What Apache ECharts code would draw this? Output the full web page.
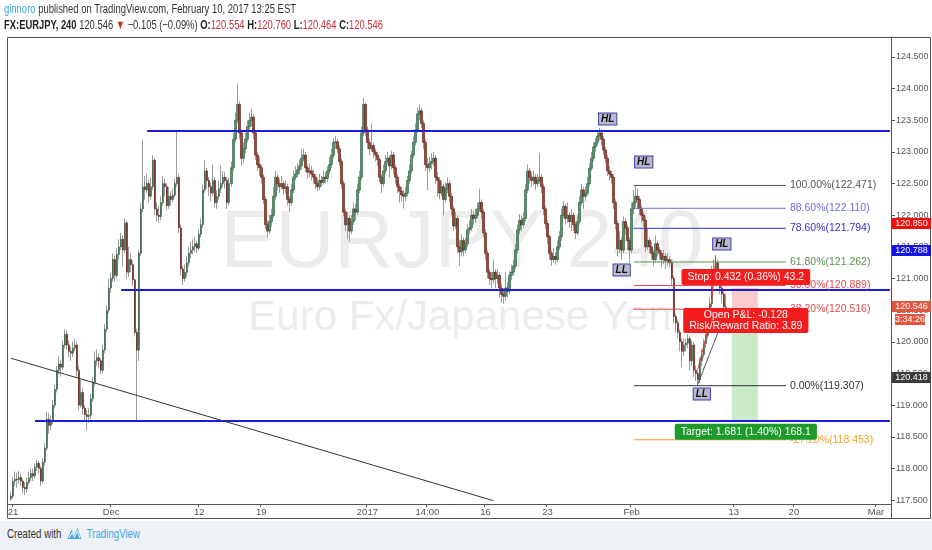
<!DOCTYPE html>
<html><head><meta charset="utf-8">
<script src="https://cdn.jsdelivr.net/npm/echarts/dist/echarts.min.js"></script>
<style>
html,body{margin:0;padding:0;background:#fff;}
#c{position:absolute;left:0;top:0;width:932px;height:550px;}
.nar{font-family:"Liberation Sans",Arial,sans-serif;transform-origin:0 50%;}
#h1{position:absolute;left:4px;top:2px;font-size:12.5px;color:#333;white-space:nowrap;}
#h2{position:absolute;left:4px;top:18px;font-size:12.5px;color:#333;white-space:nowrap;}
#h2 b{font-weight:bold;color:#222}
.rd{color:#c8323c}
#foot{position:absolute;left:0;top:521px;width:932px;height:29px;background:#eef1f6;}
#ft{position:absolute;left:7px;top:527px;font-size:12.5px;color:#333;white-space:nowrap;}
#ft .tv{color:#45a8e0}
</style>
</head><body>
<div id="c"></div>
<div id="h1" class="nar" data-w="292"><span style="color:#3da5dc">ginnoro</span> published on TradingView.com, February 10, 2017 13:25 EST</div>
<div id="h2" class="nar" data-w="379"><b>FX:EURJPY, 240</b> 120.546 <span class="rd">▼</span> −0.105 (−0.09%) <b>O:</b><span class="rd">120.554</span> <b>H:</b><span class="rd">120.760</span> <b>L:</b><span class="rd">120.464</span> <b>C:</b><span class="rd">120.546</span></div>
<div id="foot"></div>
<div id="ft" class="nar" data-w="133">Created with <svg width="22" height="13" viewBox="0 0 20 13" style="vertical-align:-2px;margin:0 2px"><path d="M1 12 L6 3 L10 8 L14 1 L19 12 Z" fill="#45a8e0"/><path d="M3 11 L7 6 L10 10 L14 4 L17 11" fill="none" stroke="#fff" stroke-width="1.2"/></svg> <span class="tv">TradingView</span></div>
<script>
const FONT = '"Liberation Sans",Arial,sans-serif';
const firstOpen = 117.52;
const closes = [
117.56,117.80,117.83,117.82,117.86,117.80,117.70,117.68,117.78,117.85,
117.92,117.88,118.02,118.08,118.00,117.80,118.10,118.32,118.78,118.68,
118.76,119.00,119.25,119.55,119.65,119.60,119.95,120.12,119.95,119.85,
119.82,119.90,119.95,119.55,119.00,119.20,118.95,118.85,118.82,118.84,
119.10,119.36,119.70,119.75,119.70,119.55,119.87,120.20,120.50,120.85,
121.00,121.30,121.05,121.38,121.50,121.62,121.45,121.88,121.10,121.30,
121.22,120.98,120.15,119.87,121.40,122.10,122.45,122.40,122.50,122.30,
122.45,122.87,122.10,122.00,121.98,122.20,122.50,122.45,122.15,122.30,
122.25,122.32,122.50,122.60,121.80,121.15,121.00,121.10,121.25,121.40,
121.45,121.50,121.55,121.48,121.70,121.85,122.40,122.70,122.55,122.45,
122.35,122.55,122.20,122.30,122.42,122.50,122.60,122.55,122.20,122.50,
122.75,123.20,123.50,123.75,123.30,122.90,123.05,123.20,123.40,123.50,
123.55,123.30,122.95,122.80,122.75,122.60,122.25,121.85,121.75,121.90,
122.00,122.30,122.60,122.50,122.45,122.50,122.42,122.45,122.25,122.20,
122.40,122.60,122.65,122.72,122.78,122.90,122.95,122.75,122.68,122.70,
122.65,122.60,122.50,122.45,122.55,122.52,122.60,122.58,122.70,122.80,
122.95,123.15,123.16,123.05,122.85,122.50,122.05,121.85,121.95,121.75,
121.90,122.10,122.05,122.40,122.60,123.30,123.75,123.35,123.15,123.05,
123.10,123.00,122.95,122.88,122.60,122.50,122.70,122.85,122.90,122.78,
122.95,122.75,122.60,122.45,122.38,122.32,122.30,122.35,122.55,122.70,
122.95,123.15,123.35,123.60,123.65,123.45,123.15,122.80,122.75,122.82,
122.85,122.90,122.60,122.55,122.35,122.45,122.25,122.42,122.50,122.30,
122.10,121.83,121.95,121.50,121.42,121.60,121.45,121.55,121.77,121.80,
122.00,121.95,122.00,122.10,122.20,122.05,121.72,121.40,121.10,121.00,
120.98,121.10,121.00,121.05,120.85,120.75,120.72,120.85,120.80,121.05,
121.10,121.20,121.45,121.77,121.92,121.85,121.95,122.40,122.70,122.60,
122.55,122.60,122.50,122.55,122.60,122.45,122.10,121.87,121.66,121.40,
121.30,121.35,121.30,121.50,121.66,122.00,122.14,121.95,122.00,121.90,
122.00,121.85,121.72,121.90,122.20,122.40,122.30,122.35,122.50,122.74,
122.90,123.08,123.15,123.25,123.30,123.20,123.03,122.90,122.70,122.65,
122.60,122.20,121.87,121.47,121.60,121.45,121.90,121.80,121.60,121.45,
122.10,122.20,122.30,122.25,122.10,122.00,121.92,121.50,121.60,121.50,
121.40,121.30,121.55,121.45,121.40,121.30,121.35,121.28,121.30,121.25,
121.00,120.40,120.30,120.15,120.00,119.85,119.95,119.98,120.05,119.70,
119.95,119.55,119.50,119.40,119.70,119.80,119.97,120.10,120.25,120.60,
121.10,121.00,121.25,121.00,120.85,120.75,120.554,120.546
];
const highs = [
117.62,117.86,117.95,117.93,117.96,117.92,117.84,117.78,117.86,117.95,
118.00,118.00,118.08,118.14,118.12,118.04,118.16,118.40,118.90,118.88,
118.84,119.08,119.32,119.62,119.78,119.72,120.02,120.20,120.18,120.02,
119.92,120.00,120.05,120.00,119.62,119.40,119.28,119.00,118.92,118.95,
119.18,119.45,119.85,119.88,119.82,119.74,119.95,120.28,120.58,121.00,
121.10,121.40,121.36,121.48,121.62,121.72,121.68,121.95,121.92,121.50,
121.40,121.28,121.00,120.20,121.45,122.20,123.19,122.62,122.65,122.55,
122.60,122.95,122.90,122.20,122.15,122.30,122.62,122.58,122.50,122.45,
122.38,122.42,122.58,123.35,122.65,121.85,121.20,121.22,121.35,121.50,
121.58,121.62,121.65,121.60,121.78,121.95,122.48,122.87,122.75,122.60,
122.52,122.80,122.60,122.40,122.55,122.78,122.70,122.68,122.60,122.60,
122.85,123.30,123.62,124.08,123.80,123.35,123.15,123.30,123.50,123.62,
123.68,123.60,123.35,123.00,122.92,122.80,122.65,122.30,121.92,122.00,
122.10,122.45,122.70,122.65,122.58,122.62,122.55,122.55,122.50,122.30,
122.50,122.70,122.78,122.82,122.88,123.05,123.05,123.00,122.80,122.82,
122.78,122.72,122.65,122.58,122.65,122.62,122.70,122.68,122.78,122.92,
123.05,123.22,123.25,123.20,123.10,122.90,122.55,122.10,122.05,122.00,
122.00,122.20,122.18,122.50,122.70,123.40,123.85,123.78,123.40,123.20,
123.45,123.15,123.05,123.00,122.92,122.65,122.80,122.95,123.00,122.95,
123.02,123.00,122.80,122.65,122.50,122.45,122.40,122.45,122.62,122.80,
123.02,123.25,123.45,123.70,123.75,123.70,123.50,123.20,122.90,122.92,
122.98,123.00,122.95,122.68,122.60,122.55,122.50,122.52,122.60,122.55,
122.35,122.15,122.05,122.00,121.60,121.70,121.65,121.65,121.85,121.92,
122.10,122.08,122.10,122.20,122.42,122.25,122.10,121.78,121.45,121.15,
121.10,121.30,121.15,121.15,121.10,120.92,120.85,121.10,120.95,121.12,
121.22,121.30,121.55,121.85,122.02,122.00,122.05,122.50,122.80,122.75,
122.68,122.70,122.65,122.65,122.98,122.65,122.50,122.15,121.92,121.70,
121.45,121.48,121.42,121.60,121.75,122.10,122.22,122.18,122.20,122.05,
122.10,122.05,121.90,122.00,122.30,122.50,122.45,122.45,122.60,122.82,
123.00,123.15,123.22,123.32,123.38,123.32,123.25,123.08,122.95,122.78,
122.70,122.65,122.25,121.92,121.75,121.65,121.98,121.95,121.85,121.65,
122.20,122.40,122.471,122.42,122.30,122.15,122.05,121.98,121.78,121.65,
121.58,121.45,121.68,121.60,121.50,121.45,121.45,121.40,121.40,121.35,
121.30,121.05,120.45,120.35,120.20,120.05,120.05,120.05,120.12,120.10,
120.02,120.00,119.62,119.55,119.75,119.88,120.05,120.18,120.35,120.70,
121.20,121.30,121.37,121.30,121.05,120.90,120.80,120.760
];
const lows = [
117.48,117.52,117.72,117.70,117.76,117.72,117.60,117.58,117.62,117.74,
117.80,117.80,117.84,117.96,117.92,117.72,117.76,118.05,118.28,118.55,
118.60,118.70,118.95,119.20,119.48,119.45,119.55,119.90,119.88,119.75,
119.70,119.76,119.85,119.45,118.92,118.96,118.85,118.75,118.60,118.72,
118.78,119.05,119.30,119.62,119.58,119.48,119.50,119.82,120.15,120.45,
120.78,120.95,120.95,121.00,121.30,121.45,121.20,121.40,121.00,121.02,
121.10,120.88,120.10,118.74,119.70,121.35,122.05,122.25,122.35,122.20,
122.25,122.40,122.00,121.90,121.88,121.92,122.15,122.30,122.08,122.10,
122.15,122.20,122.28,122.45,121.72,121.05,120.90,120.95,121.02,121.18,
121.32,121.38,121.42,121.40,121.44,121.65,121.80,122.35,122.42,122.30,
122.22,122.30,122.12,122.10,122.25,122.35,122.45,122.42,122.10,122.15,
122.45,122.70,123.15,123.45,123.20,122.78,122.82,122.98,123.15,123.35,
123.40,123.20,122.88,122.70,122.62,122.50,122.18,121.78,121.65,121.70,
121.82,121.95,122.25,122.40,122.35,122.40,122.32,122.35,122.15,122.05,
122.15,122.35,122.55,122.60,122.65,122.72,122.85,122.68,122.58,122.60,
122.55,122.50,122.42,122.38,122.40,122.45,122.48,122.50,122.52,122.65,
122.75,122.90,123.05,122.98,122.78,122.42,121.98,121.75,121.62,121.58,
121.70,121.85,121.92,122.00,122.35,122.55,123.25,123.25,123.05,122.95,
123.00,122.90,122.85,122.78,122.52,122.35,122.45,122.65,122.80,122.60,
122.72,122.65,122.50,122.35,122.20,122.22,122.10,122.22,122.30,122.50,
122.65,122.90,123.10,123.30,123.50,123.38,123.05,122.70,122.40,122.68,
122.72,122.78,122.50,122.30,122.25,122.30,122.00,122.20,122.35,122.20,
122.00,121.75,121.78,121.40,121.20,121.35,121.35,121.40,121.50,121.70,
121.75,121.85,121.88,121.95,122.05,121.95,121.65,121.30,121.00,120.90,
120.85,120.92,120.85,120.92,120.70,120.62,120.60,120.65,120.70,120.75,
120.98,121.05,121.15,121.40,121.70,121.75,121.80,121.90,122.35,122.50,
122.45,122.48,122.40,122.45,122.50,122.35,122.00,121.78,121.55,121.30,
121.20,121.25,121.22,121.25,121.45,121.60,121.95,121.85,121.88,121.80,
121.75,121.75,121.62,121.68,121.85,122.15,122.10,122.22,122.30,122.45,
122.70,122.85,123.00,123.10,123.18,123.10,122.95,122.82,122.62,122.55,
122.50,122.10,121.78,121.35,121.40,121.30,121.40,121.70,121.45,121.25,
121.40,122.02,122.12,122.10,122.00,121.88,121.82,121.42,121.45,121.40,
121.30,121.20,121.25,121.35,121.30,121.18,121.22,121.15,121.20,121.18,
120.90,120.30,120.15,120.05,119.85,119.60,119.78,119.85,119.90,119.55,
119.62,119.45,119.38,119.307,119.35,119.62,119.75,119.90,120.05,120.20,
120.55,120.92,120.95,120.90,120.75,120.62,120.50,120.464
];
const totalSlots = 440;
const xTicks = [[1,'21'],[50,'Dec'],[94,'12'],[125,'19'],[178,'2017'],[208,'14:00'],[237,'16'],[268,'23'],[310,'Feb'],[361,'13'],[391,'20'],[432,'Mar']];
const yTicks = [117.5,118,118.5,119,119.5,120,120.5,121,121.5,122,122.5,123,123.5,124,124.5];
// horizontal support/resistance lines: [startBar, endBar, price]
const hLines = [[68,439,123.33],[55,439,120.82],[12,439,118.75]];
// trend line: [bar, price] pairs
const trendLine = [[0,119.74],[241,117.49]];
// fib retracement from 122.471 (100%) to 119.307 (0%)
const fibStart = 311, fibEnd = 387;
const fibLevels = [
  ['100.00%',122.471,'#555555'],
  ['88.60%',122.110,'#6b6be0'],
  ['78.60%',121.794,'#3030c8'],
  ['61.80%',121.262,'#5f8f4e'],
  ['50.00%',120.889,'#e24a4a'],
  ['38.20%',120.516,'#e24a4a'],
  ['0.00%',119.307,'#333333'],
  ['-27.20%',118.453,'#f0a030']
];
// short position tool
const posStart = 360, posEnd = 373, posMid = 367;
const stopPrice = 120.850, entryPrice = 120.418, targetPrice = 118.737;
const stopText = 'Stop: 0.432 (0.36%) 43.2';
const pnlText = 'Open P&L: -0.128\nRisk/Reward Ratio: 3.89';
const targetText = 'Target: 1.681 (1.40%) 168.1';
// swing labels: [bar, price, text]
const swings = [[298,123.52,'HL'],[316,122.84,'HL'],[305,121.135,'LL'],[355,121.546,'HL'],[345,119.176,'LL']];
// small drawing on last swing
const redPath = [[343,119.56],[348,120.19],[350,120.66],[352,121.34]];
const grayPath = [[343,119.33],[353,120.14]];

const cats = Array.from({length: totalSlots}, (_, i) => String(i));
const opens = closes.map((c, i) => i === 0 ? firstOpen : closes[i - 1]);
const ohlc = closes.map((c, i) => [opens[i], c, lows[i], highs[i]]);
const bodies = closes.map((c, i) => [opens[i], c, Math.min(opens[i], c), Math.max(opens[i], c)]);
const tickMap = {}; xTicks.forEach(t => tickMap[t[0]] = t[1]);
const isTick = (i) => tickMap[i] !== undefined;

const series = [];
series.push({type:'candlestick', data: ohlc, barWidth: 1, z: 2, silent: true,
  itemStyle:{color:'rgba(0,0,0,0)', color0:'rgba(0,0,0,0)', borderColor:'#9c9c9c', borderColor0:'#9c9c9c', borderWidth:1}});
series.push({type:'candlestick', data: bodies, barWidth: 2, z: 3, silent: true,
  itemStyle:{color:'#4a9768', color0:'#b23d2d', borderColor:'#2a5a3d', borderColor0:'#571910', borderWidth:0.6}});
hLines.forEach(h => series.push({type:'line', data:[[h[0],h[2]],[h[1],h[2]]], symbol:'none', silent:true, z:4,
  lineStyle:{color:'#1c1cd8', width:2}}));
series.push({type:'line', data: trendLine, symbol:'none', silent:true, z:4, lineStyle:{color:'#333', width:1}});
fibLevels.forEach(f => series.push({type:'line', data:[[fibStart,f[1]],[fibEnd,f[1]]], symbol:'none', silent:true, z:4,
  lineStyle:{color:f[2], width:1},
  endLabel:{show:true, formatter: f[0] + '(' + f[1].toFixed(3) + ')', color:f[2], fontSize:10.5, distance:4, fontFamily:FONT}}));
series.push({type:'custom', silent:true, z:3,
  renderItem:(params, api) => {
    const p0 = api.coord([api.value(0), api.value(2)]);
    const p1 = api.coord([api.value(1), api.value(3)]);
    return {type:'rect', shape:{x:p0[0], y:p0[1], width:p1[0]-p0[0], height:p1[1]-p0[1]},
      style:{fill: params.dataIndex === 0 ? 'rgba(242,90,90,0.32)' : 'rgba(80,185,80,0.30)'}};
  },
  encode:{x:[0,1], y:[2,3]},
  data:[[posStart,posEnd,stopPrice,entryPrice],[posStart,posEnd,entryPrice,targetPrice]]});
series.push({type:'line', data: redPath, symbol:'none', silent:true, z:5, lineStyle:{color:'#e53935', width:1}});
series.push({type:'line', data: grayPath, symbol:'none', silent:true, z:5, lineStyle:{color:'#555', width:1}});
const lblBase = {show:true, color:'#fff', fontSize:10.5, fontFamily:FONT, borderRadius:2, position:'inside'};
series.push({type:'scatter', silent:true, z:10, symbolSize:1, itemStyle:{color:'rgba(0,0,0,0)', opacity:1},
  data:[
    {value:[posMid, stopPrice], label:Object.assign({}, lblBase, {formatter:stopText, offset:[0,-11], backgroundColor:'#f41c1c', padding:[3,6,2,6]})},
    {value:[posMid, entryPrice], label:Object.assign({}, lblBase, {formatter:pnlText, offset:[0,5], lineHeight:11.5, backgroundColor:'#f41c1c', padding:[1,6,1,6]})},
    {value:[posMid, targetPrice], label:Object.assign({}, lblBase, {formatter:targetText, offset:[0,10], backgroundColor:'#1d9a2c', padding:[3,6,2,6]})}
  ]});
series.push({type:'scatter', silent:true, z:10, symbolSize:1, itemStyle:{color:'rgba(0,0,0,0)', opacity:1},
  data: swings.map(s => ({value:[s[0], s[1]], label:{show:true, formatter:s[2], position:'inside', color:'#111',
    fontSize:10, fontWeight:'bold', fontStyle:'italic', fontFamily:FONT,
    backgroundColor:'#b9b9cc', borderColor:'#4040b0', borderWidth:1, padding:[1,2,0,2]}}))});

function tag(x, y, w, h, fill, text) {
  return {type:'group', children:[
    {type:'rect', z:100, shape:{x:x, y:y, width:w, height:h}, style:{fill:fill}},
    {type:'text', z:101, x:x + w/2, y:y + h/2 + 0.5, style:{text:text, fill:'#fff', font:'9px ' + FONT, textAlign:'center', textVerticalAlign:'middle'}}
  ]};
}

const option = {
  animation:false,
  backgroundColor:'transparent',
  grid:{left:10, right:41, top:37, bottom:46},
  xAxis:{type:'category', data:cats, boundaryGap:true, z:1,
    axisLine:{show:true, lineStyle:{color:'#555'}},
    axisTick:{show:true, interval:(i)=>isTick(i), length:3, lineStyle:{color:'#555'}},
    axisLabel:{interval:(i)=>isTick(i), formatter:(v, i)=>tickMap[i] || '', color:'#555', fontSize:9.5, margin:3, fontFamily:FONT},
    splitLine:{show:false}},
  yAxis:{type:'value', position:'right', min:117.438, max:124.816, z:1,
    axisLine:{show:true, lineStyle:{color:'#555'}},
    axisTick:{show:true, customValues:yTicks, length:4, lineStyle:{color:'#555'}},
    axisLabel:{customValues:yTicks, formatter:(v)=>v.toFixed(3), color:'#555', fontSize:9, margin:5, fontFamily:FONT},
    splitLine:{show:false}},
  graphic:[
    {type:'text', z:0, x:462, y:244, silent:true, style:{text:'EURJPY 240', font:'82px ' + FONT, fill:'#ececec', textAlign:'center', textVerticalAlign:'middle'}},
    {type:'text', z:0, x:460, y:318, silent:true, style:{text:'Euro Fx/Japanese Yen', font:'42px ' + FONT, fill:'#ececec', textAlign:'center', textVerticalAlign:'middle'}},
    {type:'rect', z:30, silent:true, shape:{x:7.5, y:37.5, width:923, height:481}, style:{fill:null, stroke:'#555', lineWidth:1}},
    {type:'line', z:30, silent:true, shape:{x1:7.5, y1:504.5, x2:891, y2:504.5}, style:{stroke:'#555', lineWidth:1}},
    {type:'line', z:30, silent:true, shape:{x1:891.5, y1:37, x2:891.5, y2:519}, style:{stroke:'#555', lineWidth:1}},
    tag(892, 218, 39, 11, '#f20d0d', '120.850'),
    tag(892, 245, 39, 11, '#1414e6', '120.788'),
    tag(892, 301, 39, 11, '#e2553f', '120.546'),
    tag(895, 314, 30, 11, '#e2553f', '3:34:26'),
    tag(892, 372, 39, 11, '#3c3c3c', '120.418')
  ],
  series: series
};
const chart = echarts.init(document.getElementById('c'));
chart.setOption(option);

// fit header/footer text lines to the reference widths
document.querySelectorAll('[data-w]').forEach(el => {
  const w = el.getBoundingClientRect().width;
  const target = parseFloat(el.getAttribute('data-w'));
  if (w > 0) el.style.transform = 'scaleX(' + (target / w) + ')';
});
</script>
</body></html>
